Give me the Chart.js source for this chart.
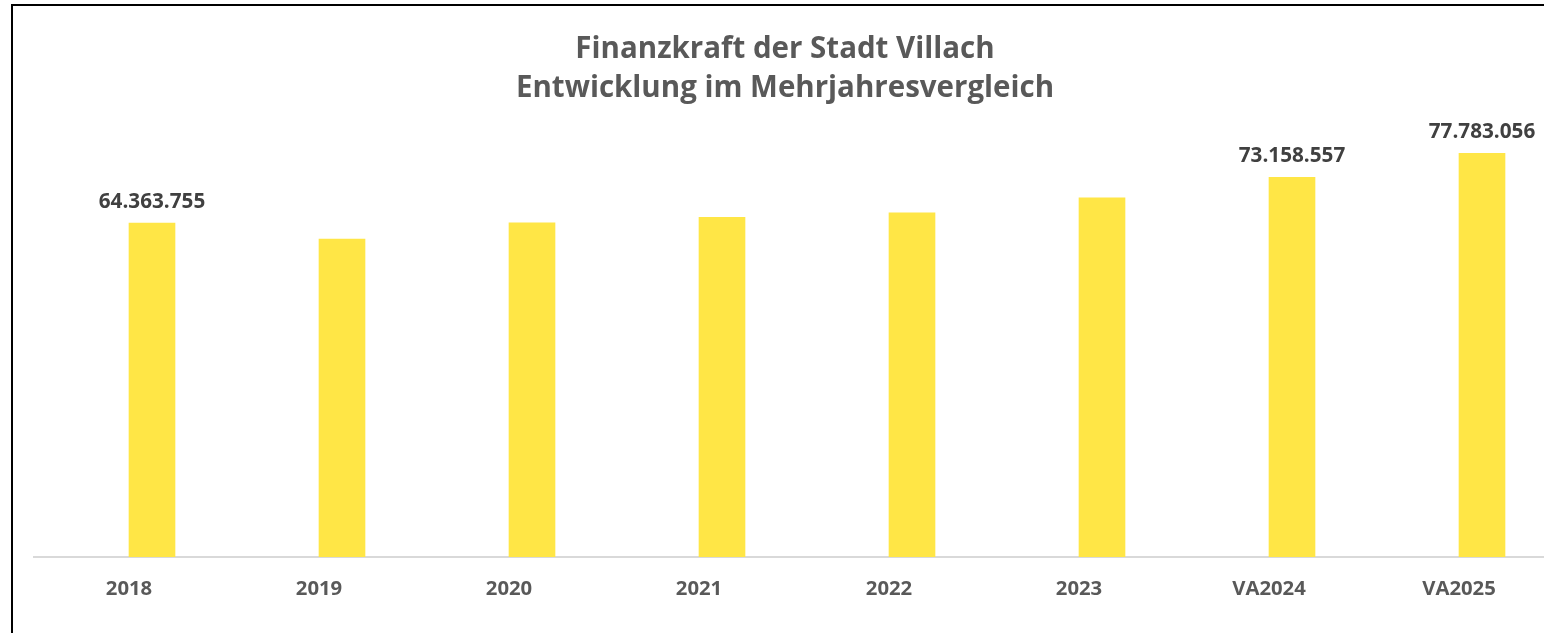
<!DOCTYPE html>
<html>
<head>
<meta charset="utf-8">
<script src="https://cdn.jsdelivr.net/npm/chart.js@4/dist/chart.umd.min.js"></script>
<style>
  html, body { margin: 0; padding: 0; background: #ffffff; overflow: hidden; width: 1544px; height: 633px; }
  #chart { position: absolute; left: 16px; top: 0; }
  #frame { position: absolute; left: 11px; top: 4px; width: 2000px; height: 1000px;
           border-left: 2px solid #000; border-top: 2px solid #000; pointer-events: none; }
</style>
</head>
<body>
<canvas id="chart" width="1538" height="633"></canvas>
<div id="frame"></div>
<script>
// ---- data ----
const categories = ['2018', '2019', '2020', '2021', '2022', '2023', 'VA2024', 'VA2025'];
const emptySeries = [null, null, null, null, null, null, null, null];
const finanzkraft = [64363755, 61270000, 64420000, 65440000, 66350000, 69240000, 73158557, 77783056];
const showValueLabel = [true, false, false, false, false, false, true, true];
const titleLines = ['Finanzkraft der Stadt Villach', 'Entwicklung im Mehrjahresvergleich'];

function fmtDE(v) {
  return String(Math.round(v)).replace(/\B(?=(\d{3})+(?!\d))/g, '.');
}

const valueLabelPlugin = {
  id: 'valueLabels',
  afterDatasetsDraw(chart) {
    const ctx = chart.ctx;
    const meta = chart.getDatasetMeta(1);
    ctx.save();
    ctx.font = 'bold 20.7px "Open Sans", sans-serif';
    ctx.fillStyle = '#404040';
    ctx.textAlign = 'center';
    ctx.textBaseline = 'alphabetic';
    meta.data.forEach((bar, i) => {
      if (!showValueLabel[i]) return;
      ctx.fillText(fmtDE(finanzkraft[i]), bar.x, bar.y - 15);
    });
    ctx.restore();
  }
};

new Chart(document.getElementById('chart'), {
  type: 'bar',
  data: {
    labels: categories,
    datasets: [
      { label: 'leer', data: emptySeries, backgroundColor: '#FFE646' },
      { label: 'Finanzkraft', data: finanzkraft, backgroundColor: '#FFE646', borderWidth: 0 }
    ]
  },
  options: {
    responsive: false,
    animation: false,
    layout: { padding: 0 },
    datasets: { bar: { barThickness: 46 } },
    plugins: {
      legend: { display: false },
      tooltip: { enabled: false },
      title: {
        display: true,
        text: titleLines,
        color: '#595959',
        font: { family: '"Open Sans", sans-serif', size: 29.5, weight: 'bold', lineHeight: 1.32 },
        padding: { top: 30, bottom: 34 }
      }
    },
    scales: {
      x: {
        grid: { display: false, drawTicks: false },
        border: { display: true, color: '#d9d9d9', width: 2 },
        ticks: {
          color: '#595959',
          font: { family: '"Open Sans", sans-serif', size: 20.3, weight: 'bold' },
          padding: 20,
          maxRotation: 0
        },
        afterFit(scale) { scale.height = 76; }
      },
      y: {
        min: 0,
        max: 80000000,
        grid: { display: false, drawTicks: false },
        border: { display: false },
        ticks: { display: false },
        afterFit(scale) { scale.width = 18; }
      }
    }
  },
  plugins: [valueLabelPlugin]
});
</script>
</body>
</html>
